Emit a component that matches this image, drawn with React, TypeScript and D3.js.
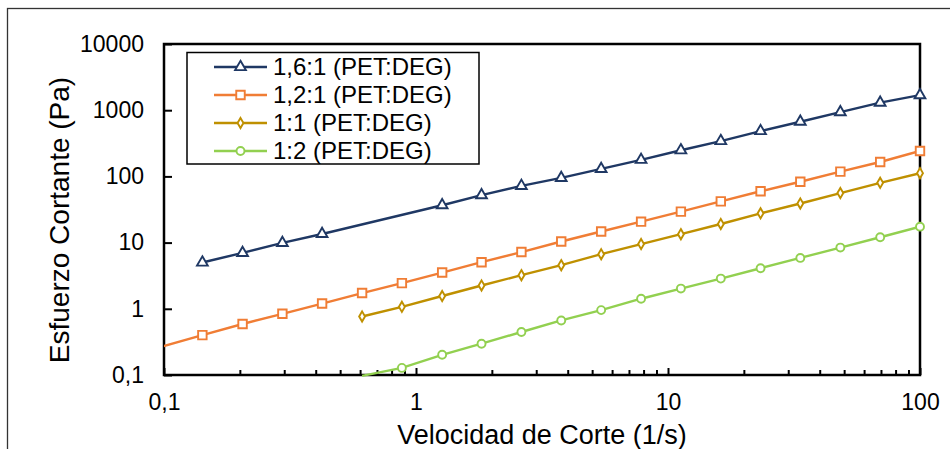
import React, { useEffect, useRef } from 'react';
import {
  axisBottom,
  axisLeft,
  line,
  scaleLog,
  select,
  symbol,
  symbolCircle,
  symbolDiamond,
  symbolSquare,
  symbolTriangle,
} from 'd3';

// shear rate (1/s), shared by all series
const shearRate = [
  0.0989, 0.142, 0.205, 0.295, 0.424, 0.611, 0.879, 1.27, 1.82, 2.62,
  3.77, 5.43, 7.82, 11.25, 16.2, 23.3, 33.5, 48.3, 69.5, 100,
];

// shear stress (Pa), null where the series has no point
const ratio16 = [
  null, 5.0, 7.0, 9.9, 13.5, null, null, 36.7, 52, 72,
  95, 130, 178, 248, 342, 484, 670, 935, 1300, 1690,
];
const ratio12 = [
  0.27, 0.40, 0.59, 0.84, 1.20, 1.73, 2.44, 3.53, 5.06, 7.2,
  10.4, 14.7, 20.7, 29.4, 42, 59.6, 83, 118, 165, 242,
];
const ratio11 = [
  null, null, null, null, null, 0.766, 1.07, 1.56, 2.25, 3.22,
  4.56, 6.68, 9.5, 13.4, 19.1, 27.7, 39, 56, 80, 112,
];
const ratio12b = [
  null, null, null, null, null, 0.097, 0.128, 0.202, 0.297, 0.446,
  0.667, 0.955, 1.42, 2.02, 2.86, 4.1, 5.87, 8.41, 12.05, 17.4,
];

const seriesNames = ['1,6:1 (PET:DEG)', '1,2:1 (PET:DEG)', '1:1 (PET:DEG)', '1:2 (PET:DEG)'];
const xTicks = [0.1, 1, 10, 100];
const yTicks = [0.1, 1, 10, 100, 1000, 10000];

const W = 950;
const H = 449;
const plot = { left: 164, top: 44, right: 920, bottom: 375 };
const font = 'Liberation Sans, Arial, sans-serif';

const series = [
  { name: seriesNames[0], values: ratio16, color: '#1f3864', shape: symbolTriangle, size: 50 },
  { name: seriesNames[1], values: ratio12, color: '#f07d35', shape: symbolSquare, size: 72 },
  { name: seriesNames[2], values: ratio11, color: '#bf9000', shape: symbolDiamond, size: 30 },
  { name: seriesNames[3], values: ratio12b, color: '#92d050', shape: symbolCircle, size: 50 },
];

const fmt = (d) => String(d).replace('.', ',');

const App = () => {
  const ref = useRef(null);

  useEffect(() => {
    const svg = select(ref.current);
    svg.selectAll('*').remove();

    const x = scaleLog().domain([0.1, 100]).range([plot.left, plot.right]);
    const y = scaleLog().domain([0.1, 10000]).range([plot.bottom, plot.top]);

    // outer chart frame (runs past the picture on right and bottom)
    svg.append('rect')
      .attr('x', 7.5).attr('y', 8.5)
      .attr('width', 1000).attr('height', 500)
      .attr('fill', 'none')
      .attr('stroke', '#333')
      .attr('stroke-width', 1.3);

    svg.append('clipPath').attr('id', 'plot-clip')
      .append('rect')
      .attr('x', plot.left).attr('y', plot.top - 2)
      .attr('width', plot.right - plot.left)
      .attr('height', plot.bottom - plot.top + 5);

    // minor x ticks
    const minor = [];
    [0.1, 1, 10].forEach((d) => {
      for (let k = 2; k <= 9; k += 1) minor.push(d * k);
    });
    svg.append('g')
      .attr('transform', `translate(0,${plot.bottom})`)
      .call(axisBottom(x).tickValues(minor).tickSize(-5).tickSizeOuter(0).tickFormat(() => ''))
      .call((g) => g.select('.domain').remove())
      .call((g) => g.selectAll('line').attr('stroke', '#000').attr('stroke-width', 2));

    const xAxis = svg.append('g')
      .attr('transform', `translate(0,${plot.bottom})`)
      .call(axisBottom(x).tickValues(xTicks).tickSize(-7).tickSizeOuter(0).tickPadding(19).tickFormat(fmt));
    xAxis.select('.domain').remove();
    xAxis.selectAll('line').attr('stroke', '#000').attr('stroke-width', 2);
    xAxis.selectAll('text')
      .attr('fill', '#000')
      .style('font-family', font)
      .style('font-size', '23px');

    const yAxis = svg.append('g')
      .attr('transform', `translate(${plot.left},0)`)
      .call(axisLeft(y).tickValues(yTicks).tickSize(-8).tickSizeOuter(0).tickPadding(20).tickFormat(fmt));
    yAxis.select('.domain').remove();
    yAxis.selectAll('line').attr('stroke', '#000').attr('stroke-width', 2);
    yAxis.selectAll('text')
      .attr('fill', '#000')
      .style('font-family', font)
      .style('font-size', '23px');

    // plot area frame
    svg.append('rect')
      .attr('x', plot.left).attr('y', plot.top)
      .attr('width', plot.right - plot.left)
      .attr('height', plot.bottom - plot.top)
      .attr('fill', 'none')
      .attr('stroke', '#000')
      .attr('stroke-width', 2.5);

    const path = line()
      .x((d) => x(d[0]))
      .y((d) => y(d[1]));

    series.forEach((s) => {
      const pts = shearRate.map((r, i) => [r, s.values[i]]).filter((d) => d[1] != null);
      svg.append('path')
        .datum(pts)
        .attr('clip-path', 'url(#plot-clip)')
        .attr('d', path)
        .attr('fill', 'none')
        .attr('stroke', s.color)
        .attr('stroke-width', 2.4);

      const inside = pts.filter((d) => d[0] >= 0.1 && d[1] >= 0.1);
      svg.append('g').selectAll('path')
        .data(inside)
        .enter()
        .append('path')
        .attr('transform', (d) => `translate(${x(d[0])},${y(d[1])})`)
        .attr('d', symbol(s.shape, s.size))
        .attr('fill', '#fff')
        .attr('stroke', s.color)
        .attr('stroke-width', 1.9);
    });

    // legend
    const legend = svg.append('g');
    legend.append('rect')
      .attr('x', 187).attr('y', 52.5)
      .attr('width', 292).attr('height', 111.5)
      .attr('fill', '#fff')
      .attr('stroke', '#000')
      .attr('stroke-width', 1.5);
    series.forEach((s, i) => {
      const cy = 67 + i * 28;
      legend.append('line')
        .attr('x1', 214).attr('x2', 267)
        .attr('y1', cy).attr('y2', cy)
        .attr('stroke', s.color)
        .attr('stroke-width', 2.4);
      legend.append('path')
        .attr('transform', `translate(240.5,${cy})`)
        .attr('d', symbol(s.shape, s.size))
        .attr('fill', '#fff')
        .attr('stroke', s.color)
        .attr('stroke-width', 1.9);
      legend.append('text')
        .attr('x', 273).attr('y', cy)
        .attr('dy', '0.35em')
        .style('font-family', font)
        .style('font-size', '24px')
        .text(s.name);
    });

    // axis titles
    svg.append('text')
      .attr('x', 542)
      .attr('y', 444)
      .attr('text-anchor', 'middle')
      .style('font-family', font)
      .style('font-size', '27px')
      .text('Velocidad de Corte (1/s)');

    svg.append('text')
      .attr('transform', 'translate(69,220) rotate(-90)')
      .attr('text-anchor', 'middle')
      .style('font-family', font)
      .style('font-size', '28px')
      .text('Esfuerzo Cortante (Pa)');
  }, []);

  return (
    <svg
      ref={ref}
      width={W}
      height={H}
      style={{ position: 'absolute', left: 0, top: 0, background: '#fff' }}
    />
  );
};

export default App;
